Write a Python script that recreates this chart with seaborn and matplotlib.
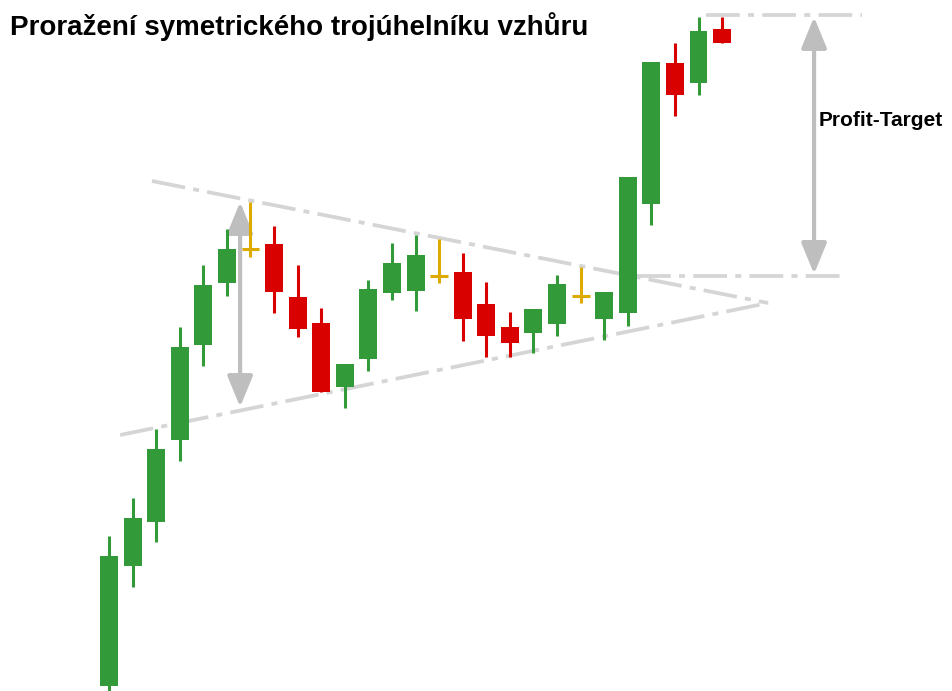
import matplotlib
matplotlib.use("Agg")
import numpy as np
import pandas as pd
import seaborn as sns
import matplotlib.pyplot as plt
from matplotlib.patches import FancyArrowPatch

# candle data (price units)
opens = [2.8, 26.8, 35.6, 52.0, 71.0, 83.4, 90.2, 91.2, 80.6, 75.4, 62.6, 68.2, 81.4, 81.8,
         84.8, 85.6, 79.2, 74.6, 73.4, 75.2, 80.8, 76.2, 77.4, 99.2, 127.4, 123.4, 134.2]
highs = [32.8, 40.4, 54.2, 74.6, 87.0, 94.2, 99.6, 94.8, 87.0, 78.4, 67.2, 84.0, 91.4, 93.0,
         92.2, 89.4, 83.6, 77.6, 78.2, 85.0, 86.6, 81.6, 104.6, 127.6, 131.4, 136.6, 136.6]
lows = [1.8, 22.6, 31.6, 47.8, 66.8, 80.8, 88.6, 77.4, 72.6, 61.6, 58.4, 65.8, 80.0, 77.8,
        83.4, 71.8, 68.6, 68.6, 69.4, 72.8, 79.4, 72.0, 74.8, 95.0, 116.8, 121.0, 131.4]
closes = [28.8, 36.4, 50.2, 70.6, 83.0, 90.2, 90.2, 81.6, 74.2, 61.6, 67.2, 82.2, 87.4, 89.0,
          84.8, 76.2, 72.8, 71.4, 78.2, 83.2, 80.8, 81.6, 104.6, 127.6, 121.0, 133.8, 131.4]

# triangle trend lines and target levels
upper_line_x = [1.82, 27.95]
upper_line_y = [103.8, 79.4]
lower_line_x = [0.47, 27.95]
lower_line_y = [53.0, 79.4]
target_top_x = [25.32, 31.93]
target_top_y = 137.0
target_base_x = [22.39, 31.13]
target_base_y = 84.8

df = pd.DataFrame({"open": opens, "high": highs, "low": lows, "close": closes})
df["idx"] = np.arange(len(df))

GREEN = "#329A38"
RED = "#D90000"
DOJI = "#DDAA00"
GREY = "#D5D5D5"
ARROW = "#BEBEBE"

sns.set_theme(style="white")
plt.rcParams["font.family"] = ["Liberation Sans", "DejaVu Sans"]

fig = plt.figure(figsize=(9.52, 6.91), dpi=100)
ax = fig.add_axes([0, 0, 1, 1])
ax.set_xlim(-4.623, 35.75)
ax.set_ylim(1.8, 140.0)
ax.set_axis_off()

# dash-dot guide lines
dash = (0, (9, 2.2, 1.6, 2.2))
ax.plot(upper_line_x, upper_line_y, color=GREY, lw=2.7, linestyle=dash, zorder=1)
ax.plot(lower_line_x, lower_line_y, color=GREY, lw=2.7, linestyle=dash, zorder=1)
ax.hlines(target_top_y, *target_top_x, color=GREY, lw=2.7, linestyle=dash, zorder=1)
ax.hlines(target_base_y, *target_base_x, color=GREY, lw=2.7, linestyle=dash, zorder=1)

# candles
width = 0.76
for _, r in df.iterrows():
    if r["close"] > r["open"]:
        col = GREEN
    elif r["close"] < r["open"]:
        col = RED
    else:
        col = DOJI
    ax.vlines(r["idx"], r["low"], r["high"], color=col, lw=2.2, zorder=3)
    if col == DOJI:
        ax.hlines(r["open"], r["idx"] - width / 2, r["idx"] + width / 2, color=col, lw=2.2, zorder=3)
    else:
        ax.bar(r["idx"], abs(r["close"] - r["open"]), bottom=min(r["open"], r["close"]),
               width=width, color=col, zorder=4, linewidth=0)

# measuring arrows
style = "<|-|>,head_length=1.9,head_width=0.78"
for x, y0, y1 in [(5.56, 99.6, 58.6), (29.9, 136.6, 85.2)]:
    ax.add_patch(FancyArrowPatch((x, y0), (x, y1), arrowstyle=style, mutation_scale=10,
                                 color=ARROW, lw=3, shrinkA=0, shrinkB=0, zorder=2))

ax.text(30.1, 116.0, "Profit-Target", fontsize=15, fontweight="bold", color="black",
        ha="left", va="center")

fig.text(10 / 952, 1 - 35 / 691, "Proražení symetrického trojúhelníku vzhůru",
         fontsize=20, fontweight="bold", color="black", ha="left", va="baseline")

fig.savefig("out.png", dpi=100, facecolor="white")
